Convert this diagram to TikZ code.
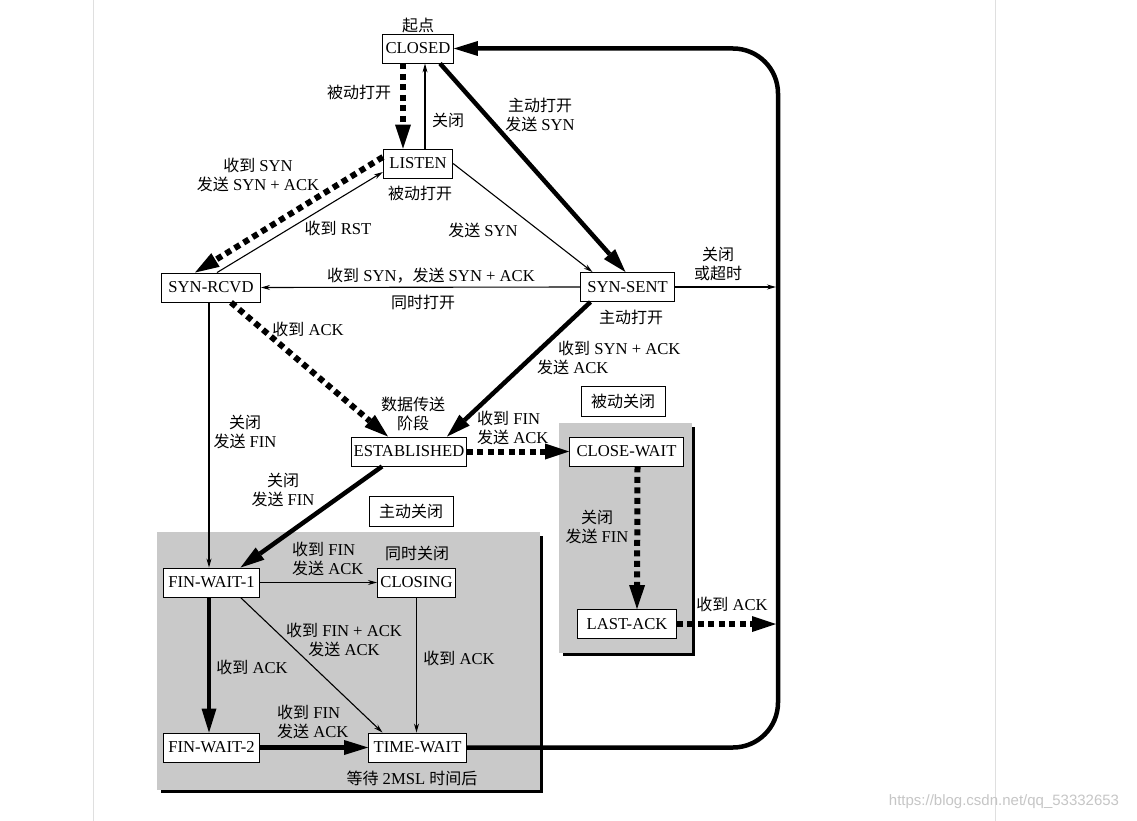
\documentclass[tikz,border=0pt]{standalone}
\usepackage{fontspec}
\setmainfont{Liberation Serif}[Scale=1.04]
\newfontfamily\zhfont{Noto Sans CJK SC}
\newfontfamily\wmfont{Liberation Sans}
\newcommand{\zh}[1]{{\zhfont #1}}
\usetikzlibrary{arrows.meta}
\tikzset{
  state/.style={rectangle, draw=black, line width=0.9pt, fill=white, font=\fontsize{16}{19}\selectfont,
                inner xsep=8pt, inner ysep=0pt, minimum height=29pt},
  tag/.style={font=\fontsize{16}{19}\selectfont, align=center, inner sep=0pt},
  tagbox/.style={rectangle, draw=black, line width=0.9pt, fill=white, font=\fontsize{16}{19}\selectfont,
                 minimum width=84pt, minimum height=30pt, inner sep=0pt},
  thinline/.style={-{Stealth[length=9pt, width=5pt]}, line width=1.1pt},
  boldline/.style={-{Triangle[length=24pt, width=15pt, line width=0pt]}, line width=4.5pt},
  dotline/.style={-{Triangle[length=24pt, width=16pt, line width=0pt]}, line width=6pt, dash pattern=on 6pt off 4.5pt},
  zone/.style={fill=gray!42, draw=none},
}
\begin{document}
\begin{tikzpicture}[x=1pt, y=-1pt]
\useasboundingbox (0,0) rectangle (1137,821);
\fill[white] (0,0) rectangle (1137,821);
\draw[gray!25, line width=1pt] (93,0) -- (93,821);
\draw[gray!25, line width=1pt] (995,0) -- (995,821);

\fill[black] (161,536) rectangle (543,793);
\fill[zone]  (157,532) rectangle (540,790);
\fill[black] (563,427) rectangle (695,656);
\fill[zone]  (559,423) rectangle (692,653);

\node[state, inner xsep=3pt] (closed)    at (418,48.5)  {CLOSED};
\node[state, inner xsep=6pt] (listen)    at (418,163.5) {LISTEN};
\node[state, inner xsep=7pt] (synrcvd)   at (211,287.5) {SYN-RCVD};
\node[state, inner xsep=7pt] (synsent)   at (627.5,287) {SYN-SENT};
\node[state, inner xsep=2pt] (estab)     at (409,451.5) {ESTABLISHED};
\node[state, inner xsep=7pt] (closewait) at (626.5,451.5) {CLOSE-WAIT};
\node[state, inner xsep=9pt] (lastack)   at (627,624)   {LAST-ACK};
\node[state, inner xsep=5pt] (finwait1)  at (211.5,582.5) {FIN-WAIT-1};
\node[state, inner xsep=3pt] (closing)   at (416.5,582.5) {CLOSING};
\node[state, inner xsep=5pt] (finwait2)  at (211.5,747.5) {FIN-WAIT-2};
\node[state, inner xsep=5pt] (timewait)  at (417.5,747.5) {TIME-WAIT};

\node[tagbox] (activeclose)  at (411,511)   {\zh{主动关闭}};
\node[tagbox] (passiveclose) at (623,401.5) {\zh{被动关闭}};

\node[tag] (lblstart)    at (418,25)  {\zh{起点}};
\node[tag] (lblpassive)  at (359,92)  {\zh{被动打开}};
\node[tag] (lblclose)    at (448,120) {\zh{关闭}};
\node[tag] (lblactive)   at (540,115) {\zh{主动打开}\\\zh{发送} SYN};
\node[tag] (lbllisten)   at (420,193) {\zh{被动打开}};
\node[tag] (lblsynrecv)  at (258,175) {\zh{收到} SYN\\\zh{发送} SYN + ACK};
\node[tag] (lblrst)      at (338,228) {\zh{收到} RST};
\node[tag] (lblsendsyn)  at (483,230) {\zh{发送} SYN};
\node[tag] (lblsimsyn)   at (431,276) {\zh{收到} SYN\zh{，发送} SYN + ACK};
\node[tag] (lblsimopen)  at (423,302) {\zh{同时打开}};
\node[tag] (lbltimeout)  at (718,264) {\zh{关闭}\\\zh{或超时}};
\node[tag] (lblsentopen) at (631,317) {\zh{主动打开}};
\node[tag] (lblrcvdack)  at (308,329) {\zh{收到} ACK};
\node[tag, align=left, anchor=west] (lblsynack) at (537,358) {\hspace*{21pt}\zh{收到} SYN + ACK\\\zh{发送} ACK};
\node[tag] (lbldata)     at (413,414) {\zh{数据传送}\\\zh{阶段}};
\node[tag, align=left, anchor=west] (lblestfin) at (477,428) {\zh{收到} FIN\\\zh{发送} ACK};
\node[tag] (lblrcvdfin)  at (245,432) {\zh{关闭}\\\zh{发送} FIN};
\node[tag] (lblestclose) at (283,490) {\zh{关闭}\\\zh{发送} FIN};
\node[tag] (lblcwclose)  at (597,527) {\zh{关闭}\\\zh{发送} FIN};
\node[tag] (lbllastack)  at (732,604) {\zh{收到} ACK};
\node[tag] (lblsimclose) at (417,553) {\zh{同时关闭}};
\node[tag, align=left, anchor=west] (lblfw1fin) at (292,559) {\zh{收到} FIN\\\zh{发送} ACK};
\node[tag] (lblfinack)   at (344,640) {\zh{收到} FIN + ACK\\\zh{发送} ACK};
\node[tag] (lblfw1ack)   at (252,667) {\zh{收到} ACK};
\node[tag] (lblclsack)   at (459,658) {\zh{收到} ACK};
\node[tag, align=left, anchor=west] (lblfw2fin) at (277,722) {\zh{收到} FIN\\\zh{发送} ACK};
\node[tag] (lblwait)     at (412,778) {\zh{等待} 2MSL \zh{时间后}};

\node[font=\wmfont\fontsize{15}{17}\selectfont, text=gray!45, inner sep=0pt] (watermark) at (1004,802) {https://blog.csdn.net/qq\_53332653};

\coordinate (rtop)  at (778,48.5);
\coordinate (rbot)  at (778,747.5);
\coordinate (rsent) at (776,287);
\coordinate (rack)  at (776,624);

\draw[dotline]  ([xshift=-15pt]closed.south) -- ([xshift=-15pt]listen.north);
\draw[thinline] ([xshift=7pt]listen.north) -- ([xshift=7pt]closed.south);
\draw[boldline] ([xshift=22pt]closed.south) -- ([xshift=-2pt]synsent.north);
\draw[thinline] (listen.east) -- ([xshift=-35pt]synsent.north);
\draw[dotline]  ([yshift=6.5pt]listen.west) -- ([xshift=-16pt]synrcvd.north);
\draw[thinline] ([xshift=6pt]synrcvd.north) -- ([yshift=-8.5pt]listen.west);
\draw[thinline] (synsent.west) -- (synrcvd.east);
\draw[thinline] (synsent.east) -- (rsent);
\draw[dotline]  ([xshift=20pt]synrcvd.south) -- ([xshift=-21pt]estab.north);
\draw[boldline] ([xshift=-37pt]synsent.south) -- ([xshift=38pt]estab.north);
\draw[dotline]  (estab.east) -- (closewait.west);
\draw[thinline] ([xshift=-2pt]synrcvd.south) -- ([xshift=-2.5pt]finwait1.north);
\draw[boldline] ([xshift=-27pt]estab.south) -- ([xshift=29pt]finwait1.north);
\draw[dotline]  ([xshift=11pt]closewait.south) -- ([xshift=10pt]lastack.north);
\draw[dotline]  (lastack.east) -- (rack);
\draw[thinline] (finwait1.east) -- (closing.west);
\draw[boldline] ([xshift=-2.5pt]finwait1.south) -- ([xshift=-2.5pt]finwait2.north);
\draw[thinline] ([xshift=29pt]finwait1.south) -- ([xshift=-35pt]timewait.north);
\draw[thinline] (closing.south) -- ([xshift=-1pt]timewait.north);
\draw[boldline] (finwait2.east) -- (timewait.west);
\draw[boldline, rounded corners=45pt] (timewait.east) -- (rbot) -- (rtop) -- (closed.east);
\end{tikzpicture}
\end{document}
